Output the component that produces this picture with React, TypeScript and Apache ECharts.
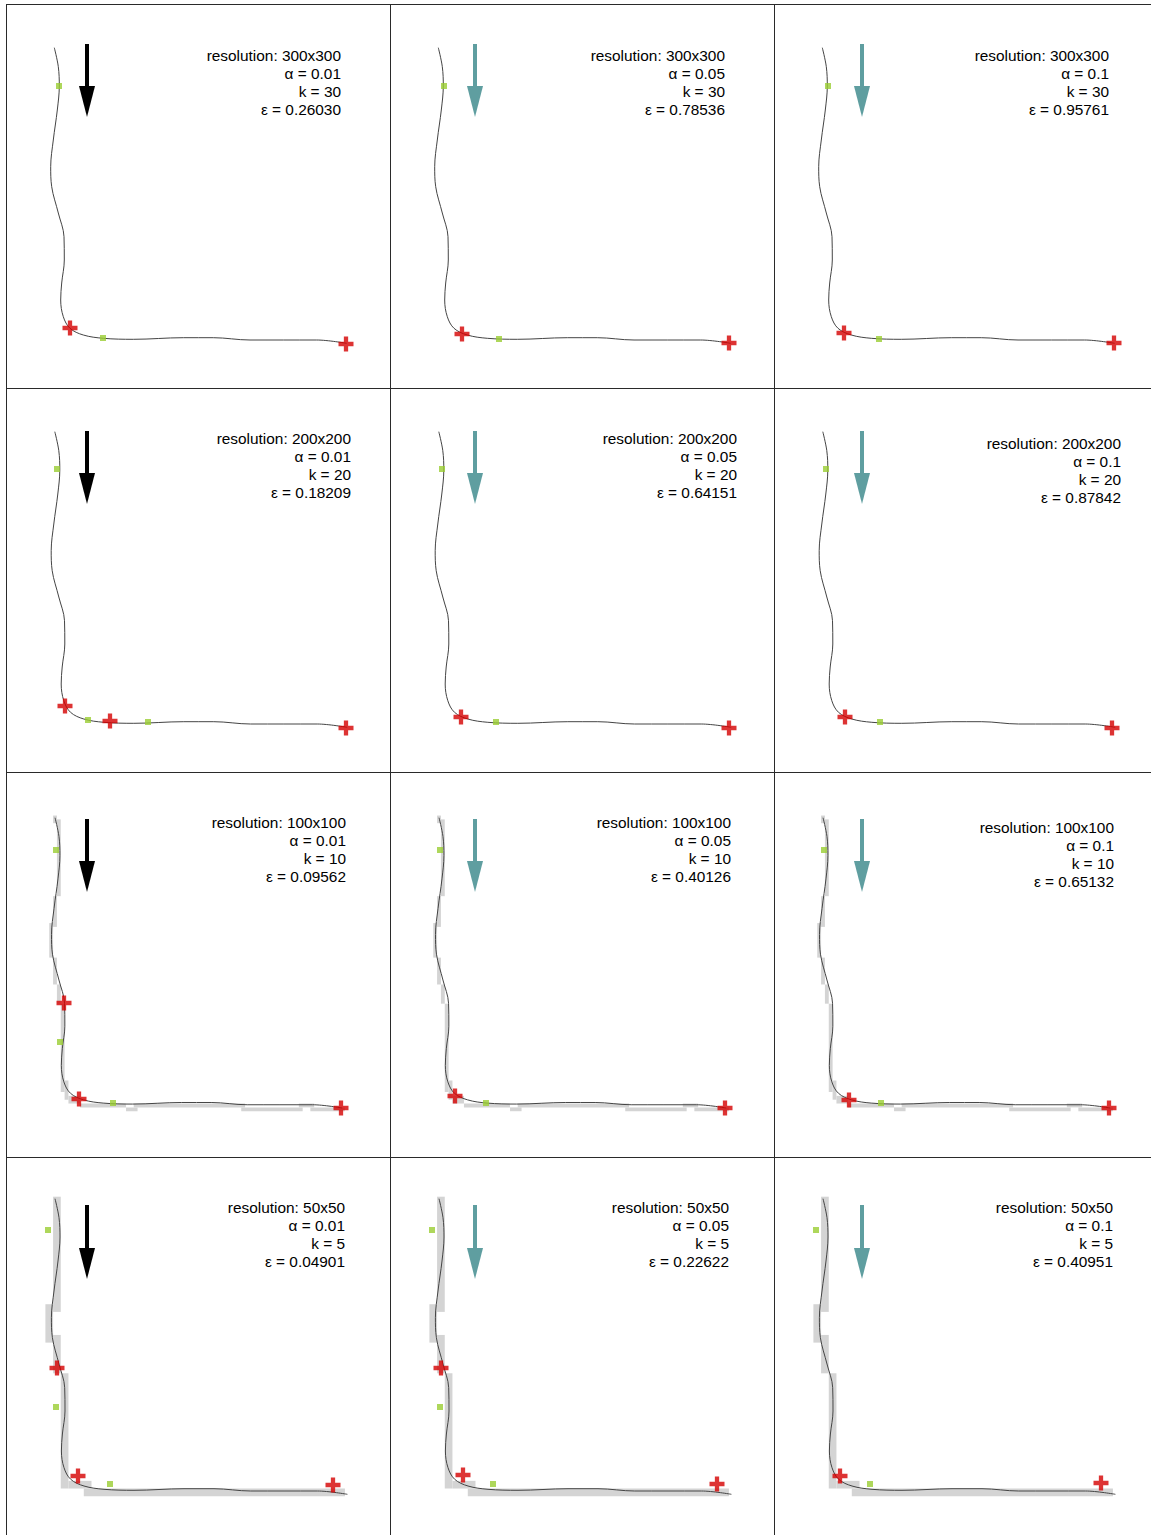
import React, { useEffect, useRef } from "react";
import * as echarts from "echarts";

// ---------- data ----------
const RESOLUTIONS = ["300x300", "200x200", "100x100", "50x50"];
const RASTER_SIZE = [300, 200, 100, 50];
const ALPHAS = ["0.01", "0.05", "0.1"];
const KS = ["30", "20", "10", "5"];
const EPSILONS = [
  ["0.26030", "0.78536", "0.95761"],
  ["0.18209", "0.64151", "0.87842"],
  ["0.09562", "0.40126", "0.65132"],
  ["0.04901", "0.22622", "0.40951"],
];

// curve, in panel units (0..384, y downward)
const CURVE: number[][] = [
  [48.3, 43.7], [52.3, 62.7], [53.3, 82], [51.3, 106], [47.3, 136], [44.7, 162.7],
  [45.7, 182.7], [52.3, 209], [58, 232.7], [58.3, 256], [55.7, 279], [54.7, 296],
  [57.3, 312.7], [64, 324.3], [77.3, 331], [97.3, 334.3], [127.3, 335.3],
  [177.3, 333.7], [207.3, 333.7], [244, 336], [310.7, 336], [340.7, 339.3],
];

// green squares per row, per column (panel units)
const GREEN: number[][][][] = [
  [[[53, 82], [97, 334]], [[54, 82], [109, 335]], [[54, 82], [105, 335]]],
  [[[51, 81], [82, 332], [142, 334]], [[52, 81], [106, 334]], [[52, 81], [106, 334]]],
  [[[50, 78], [54, 270], [107, 331]], [[50, 78], [96, 331]], [[50, 78], [107, 331]]],
  [[[42, 73], [50, 250], [104, 327]], [[42, 73], [50, 250], [103, 327]], [[42, 73], [96, 327]]],
];

// red crosses per row, per column (panel units)
const RED: number[][][][] = [
  [[[64, 324], [340, 340]], [[72, 330], [339, 339]], [[70, 329], [340, 339]]],
  [[[59, 318], [104, 333], [340, 340]], [[71, 329], [339, 340]], [[71, 329], [338, 340]]],
  [[[58, 231], [73, 327], [335, 336]], [[65, 324], [335, 336]], [[75, 328], [335, 336]]],
  [[[51, 211], [72, 319], [327, 328]], [[51, 211], [73, 318], [327, 327]], [[66, 319], [327, 326]]],
];

// rasterised cells: [colStart, colEnd, rowStart, rowEnd] (inclusive, raster units)
const CELLS_100: number[][] = [
  [12, 12, 11, 12], [13, 13, 12, 31], [12, 12, 32, 39], [11, 11, 39, 47],
  [12, 12, 48, 54], [13, 13, 55, 59], [14, 14, 60, 82], [15, 15, 80, 84],
  [16, 18, 84, 85], [19, 30, 86, 86], [31, 33, 87, 87], [33, 61, 86, 86],
  [61, 76, 87, 87], [76, 79, 86, 86], [79, 87, 87, 87],
];
const CELLS_50: number[][] = [
  [6, 6, 5, 19], [5, 5, 19, 23], [6, 6, 23, 27], [7, 7, 28, 42],
  [8, 10, 42, 42], [10, 43, 43, 43],
];
const CELLS: number[][][] = [[], [], CELLS_100, CELLS_50];

// ---------- layout ----------
const W = 1151;
const H = 1535;
const COL_X = [6, 390, 774];
const ROW_Y = [4, 388, 772, 1157];
const PANEL = 384;
const CURVE_FIT = [
  [0, 0, 1],
  [0.5, 0, 1],
  [1.6, 2.8, 0.982],
  [0.7, -2, 1],
];
const ARROW_X = [87, 475, 862];
const ARROW_Y = [[44, 117], [431, 504], [819, 892], [1205, 1279]];
const TEXT_POS = [
  [[341, 55], [725, 55], [1109, 55]],
  [[351, 438], [737, 438], [1121, 443]],
  [[346, 822], [731, 822], [1114, 827]],
  [[345, 1207], [729, 1207], [1113, 1207]],
];

const PLUS = "path://M5,0H9V5H14V9H9V14H5V9H0V5H5Z";

export default function App() {
  const ref = useRef<HTMLDivElement>(null);
  useEffect(() => {
    document.body.style.margin = "0";
    const chart = echarts.init(ref.current!, null, { renderer: "svg", width: W, height: H });
    const grid: any[] = [];
    const xAxis: any[] = [];
    const yAxis: any[] = [];
    const series: any[] = [];
    const graphic: any[] = [];

    // grid that stays inside the canvas; unitsPerPx keeps the scale fixed
    const addGrid = (left: number, top: number, sizePx: number, unitsFull: number) => {
      const w = Math.min(sizePx, W - left - 2);
      const h = Math.min(sizePx, H - top - 2);
      const idx = grid.length;
      grid.push({ left, top, width: w, height: h });
      xAxis.push({ type: "value", gridIndex: idx, min: 0, max: (unitsFull * w) / sizePx, show: false });
      yAxis.push({ type: "value", gridIndex: idx, min: 0, max: (unitsFull * h) / sizePx, inverse: true, show: false });
      return idx;
    };

    for (let r = 0; r < 4; r++) {
      for (let c = 0; c < 3; c++) {
        const x0 = COL_X[c];
        const y0 = ROW_Y[r];
        const [dx, dy, s] = CURVE_FIT[r];
        const gPanel = addGrid(x0, y0, PANEL, PANEL);
        const gCurve = addGrid(x0 + dx, y0 + dy, PANEL * s, PANEL);
        const gRaster = addGrid(x0 + 1, y0 + 1.3, PANEL, RASTER_SIZE[r]);

        if (CELLS[r].length) {
          series.push({
            type: "custom",
            xAxisIndex: gRaster,
            yAxisIndex: gRaster,
            silent: true,
            clip: false,
            z: 1,
            encode: { x: [0, 1], y: [2, 3] },
            data: CELLS[r],
            renderItem: (params: any, api: any) => {
              const a = api.coord([api.value(0), api.value(2)]);
              const b = api.coord([api.value(1) + 1, api.value(3) + 1]);
              return {
                type: "rect",
                shape: { x: a[0], y: a[1], width: b[0] - a[0], height: b[1] - a[1] },
                style: { fill: "#d4d4d4" },
              };
            },
          });
        }
        series.push({
          type: "line",
          xAxisIndex: gCurve,
          yAxisIndex: gCurve,
          data: CURVE,
          smooth: 0.35,
          showSymbol: false,
          silent: true,
          clip: false,
          z: 2,
          lineStyle: { color: "#444444", width: 1 },
        });
        series.push({
          type: "scatter",
          xAxisIndex: gPanel,
          yAxisIndex: gPanel,
          data: GREEN[r][c],
          symbol: "rect",
          symbolSize: 6,
          silent: true,
          clip: false,
          z: 3,
          itemStyle: { color: "#9acd32" },
        });
        series.push({
          type: "scatter",
          xAxisIndex: gPanel,
          yAxisIndex: gPanel,
          data: RED[r][c],
          symbol: PLUS,
          symbolSize: 15,
          silent: true,
          clip: false,
          z: 4,
          itemStyle: { color: "#d40000" },
        });

        // arrow
        const ax = ARROW_X[c];
        const [ay0, ay1] = ARROW_Y[r];
        const col = c === 0 ? "#000000" : "#5f9ea0";
        graphic.push({
          type: "rect",
          shape: { x: ax - 2, y: ay0, width: 4, height: ay1 - ay0 - 28 },
          style: { fill: col },
          z: 10,
        });
        graphic.push({
          type: "polygon",
          shape: { points: [[ax - 8, ay1 - 31], [ax + 8, ay1 - 31], [ax, ay1]] },
          style: { fill: col },
          z: 10,
        });
        // annotation
        const [tx, ty] = TEXT_POS[r][c];
        graphic.push({
          type: "text",
          x: tx,
          y: ty - 9,
          z: 10,
          style: {
            text: [
              `resolution: ${RESOLUTIONS[r]}`,
              `α = ${ALPHAS[c]}`,
              `k = ${KS[r]}`,
              `ε = ${EPSILONS[r][c]}`,
            ].join("\n"),
            align: "right",
            verticalAlign: "top",
            fontFamily: "Liberation Sans, Arial, sans-serif",
            fontSize: 15.4,
            lineHeight: 18,
            fill: "#000",
          },
        });
      }
    }

    // borders
    const stroke = { stroke: "#2a2a2a", lineWidth: 1 };
    COL_X.forEach((x) => {
      graphic.push({ type: "line", shape: { x1: x + 0.5, y1: ROW_Y[0], x2: x + 0.5, y2: H }, style: stroke, z: 20 });
    });
    ROW_Y.forEach((y) => {
      graphic.push({ type: "line", shape: { x1: COL_X[0], y1: y + 0.5, x2: W, y2: y + 0.5 }, style: stroke, z: 20 });
    });

    chart.setOption({
      animation: false,
      backgroundColor: "#ffffff",
      grid,
      xAxis,
      yAxis,
      series,
      graphic,
    });
    return () => chart.dispose();
  }, []);
  return <div ref={ref} style={{ width: W, height: H, position: "absolute", left: 0, top: 0 }} />;
}
